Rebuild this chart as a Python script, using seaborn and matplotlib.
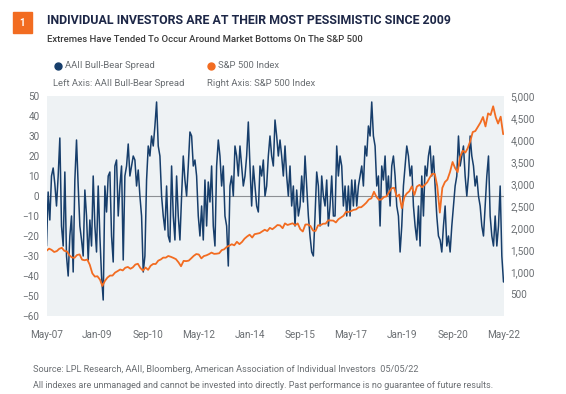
import matplotlib
matplotlib.use("Agg")
import matplotlib.pyplot as plt
import matplotlib.dates as mdates
from matplotlib.lines import Line2D
from matplotlib.patches import Rectangle
import pandas as pd
import seaborn as sns

# AAII bull-bear spread at roughly 3-week steps (May-07 .. May-22)
spread_2007_2011 = [
    -25, 2, -12, 10, 14, 6, -5, 10, 29, -15, -25, 12, -30, -40, -20, -10, -38, 8, 28, 5,
    -15, -22, -30, 3, -10, -32, -12, -25, 10, -15, -28, 5, -20, -40, -52, 5, -8, 10, 12, -20,
    -33, 15, 18, -10, 5, 15, -32, 10, 15, 26, 10, 15, 20, 18, 5, 13, 0, -10, -38, -30,
    8, 25, 20, 30, 25, 35, 47, 25, 20, 0, -10, -17, 5, -20, -23, 15, -10, -22, 10, -10,
]
spread_2011_2017 = [
    -22, 0, 20, 8, 0, 15, 32, 30, 15, 18, 10, -10, -20, -5, -22, 8, -15, 7, -3, 15,
    -15, -25, 15, 28, 20, 5, 15, -10, -15, -35, 5, 10, 0, 25, 20, 10, 25, 15, 5, 10,
    20, 37, 15, -5, 15, 5, -5, -8, 15, 10, 18, 0, 5, 20, 30, 20, 15, 38, 30, 20,
    28, 20, 10, 25, 10, 0, 15, -5, 5, -15, 3, -10, -5, 10, -3, 20, 5, -10, -20, -28,
    -30, -10, 12, 5, -15, 10, 0, -5, 8, -15, -5, 10, -10, -10, 25, 10, 20, 15, -5, 5,
    -10, 5, -10, 8, -5, 8, -5, 5,
]
spread_2017_2022 = [
    10, 15, 5, 25, 20, 35, 30, 47, 30, 25, 5, 10, -15, 15, 8, 20, 0, 10, -5, 15,
    20, 10, -5, -10, -28, -15, 5, 15, 25, 20, 10, 15, -5, -15, -22, -5, -25, 10, -10, 15,
    10, 20, 25, 10, 20, 5, -10, -20, -22, -28, -15, -5, -25, -20, -28, -15, -5, 5, 10, 30,
    15, 20, 25, 10, 0, 10, 30, 20, 15, 5, 10, 0, -5, -15, -20, -5, 10, 20, -10, -20,
    -25, -10, -25, -15, 5, -30, -43,
]
spread = spread_2007_2011 + spread_2011_2017 + spread_2017_2022
spread_dates = pd.date_range("2007-05-01", "2022-05-05", periods=len(spread))

# S&P 500 level at the start of each month, May-07 .. May-22
sp500 = [
    1482, 1531, 1503, 1455, 1474, 1527, 1549, 1481,
    1468, 1379, 1331, 1323, 1386, 1400, 1280, 1267, 1283, 1166, 969, 896,
    903, 826, 683, 798, 873, 919, 919, 987, 1021, 1057, 1036, 1096,
    1115, 1074, 1104, 1169, 1187, 1089, 1031, 1102, 1049, 1141, 1183, 1181,
    1258, 1286, 1327, 1326, 1364, 1345, 1321, 1292, 1219, 1131, 1253, 1247,
    1258, 1312, 1366, 1408, 1398, 1310, 1362, 1379, 1407, 1441, 1412, 1416,
    1426, 1498, 1515, 1569, 1598, 1631, 1606, 1686, 1633, 1682, 1757, 1806,
    1848, 1783, 1859, 1872, 1884, 1924, 1960, 1931, 2003, 1972, 2018, 2068,
    2059, 1995, 2105, 2068, 2086, 2107, 2063, 2104, 1972, 1920, 2079, 2080,
    2044, 1940, 1932, 2060, 2065, 2097, 2099, 2174, 2171, 2168, 2126, 2199,
    2239, 2279, 2364, 2363, 2384, 2412, 2423, 2470, 2472, 2519, 2575, 2648,
    2674, 2824, 2714, 2641, 2648, 2705, 2718, 2816, 2902, 2914, 2712, 2760,
    2450, 2704, 2784, 2834, 2946, 2752, 2942, 2980, 2926, 2977, 3038, 3141,
    3231, 3226, 2954, 2350, 2912, 3044, 3100, 3271, 3500, 3363, 3270, 3622,
    3756, 3714, 3811, 3973, 4181, 4204, 4298, 4395, 4523, 4308, 4605, 4567,
    4766, 4516, 4374, 4530, 4132,
]
sp_dates = pd.date_range("2007-05-01", periods=len(sp500), freq="MS")

x_ticks = pd.date_range("2007-05-01", "2022-05-01", freq="20MS")
left_ticks = list(range(-60, 51, 10))
right_ticks = list(range(500, 5001, 500))

spread_df = pd.DataFrame({"date": spread_dates, "spread": spread})
sp_df = pd.DataFrame({"date": sp_dates, "sp500": sp500})

NAVY = "#173e6b"
ORANGE = "#f26c21"
GREY = "#6b6f73"

sns.set_theme(style="white")
plt.rcParams["font.family"] = ["Roboto", "DejaVu Sans"]

W, H = 566, 394
fig = plt.figure(figsize=(W / 100, H / 100), dpi=100)


def fx(px):
    return px / W


def fy(py):
    return 1 - py / H


ax = fig.add_axes([fx(46.5), fy(316), fx(457), 220 / H])
ax.set_facecolor("#eef2f4")
ax.axhline(0, color="#8c9094", lw=0.8, zorder=1)
sns.lineplot(data=spread_df, x="date", y="spread", color=NAVY, lw=1.1, ax=ax, zorder=2)
ax.set_ylim(-60, 50)
ax.set_yticks(left_ticks)
ax.set_xlim(spread_dates[0], spread_dates[-1])
ax.set_xticks(x_ticks)
ax.xaxis.set_major_formatter(mdates.DateFormatter("%b-%y"))
ax.set_xlabel("")
ax.set_ylabel("")

ax2 = ax.twinx()
sns.lineplot(data=sp_df, x="date", y="sp500", color=ORANGE, lw=1.3, ax=ax2)
ax2.set_ylim(0, 5000)
ax2.set_yticks(right_ticks)
ax2.set_yticklabels([f"{v:,}" for v in right_ticks])
ax2.set_ylabel("")
ax2.set_xlim(spread_dates[0], spread_dates[-1])

for a in (ax, ax2):
    for s in a.spines.values():
        s.set_visible(False)
    a.tick_params(length=0, labelsize=7.2, labelcolor=GREY)
ax.tick_params(axis="y", pad=5)
ax.tick_params(axis="x", pad=10)
ax2.tick_params(axis="y", pad=5)

# header
fig.patches.append(Rectangle((fx(13), fy(33)), fx(19), 21 / H, transform=fig.transFigure,
                             color=ORANGE, zorder=3))
fig.text(fx(22.5), fy(22.5), "1", color="white", fontsize=7, fontweight="bold",
         ha="center", va="center")
fig.text(fx(47), fy(21), "INDIVIDUAL INVESTORS ARE AT THEIR MOST PESSIMISTIC SINCE 2009",
         color="#1d2747", fontsize=8.9, fontweight="bold", va="center")
fig.text(fx(47), fy(39), "Extremes Have Tended To Occur Around Market Bottoms On The S&P 500",
         color="#3b3b3b", fontsize=6.8, fontweight="medium", va="center")

fig.add_artist(Line2D([fx(58)], [fy(66)], marker="o", ms=5, color=NAVY, transform=fig.transFigure))
fig.text(fx(65), fy(66), "AAII Bull-Bear Spread", color=GREY, fontsize=6.8, va="center")
fig.add_artist(Line2D([fx(211)], [fy(66)], marker="o", ms=5, color=ORANGE, transform=fig.transFigure))
fig.text(fx(218), fy(66), "S&P 500 Index", color=GREY, fontsize=6.8, va="center")
fig.text(fx(53), fy(84), "Left Axis: AAII Bull-Bear Spread", color=GREY, fontsize=6.8, va="center")
fig.text(fx(207), fy(84), "Right Axis: S&P 500 Index", color=GREY, fontsize=6.8, va="center")

# footer
fig.text(fx(33), fy(369),
         "Source: LPL Research, AAII, Bloomberg, American Association of Individual Investors  05/05/22",
         color=GREY, fontsize=6.6, va="center")
fig.text(fx(33), fy(385),
         "All indexes are unmanaged and cannot be invested into directly. Past performance is no guarantee of future results.",
         color=GREY, fontsize=6.5, va="center")

fig.savefig("out.png", dpi=100)
